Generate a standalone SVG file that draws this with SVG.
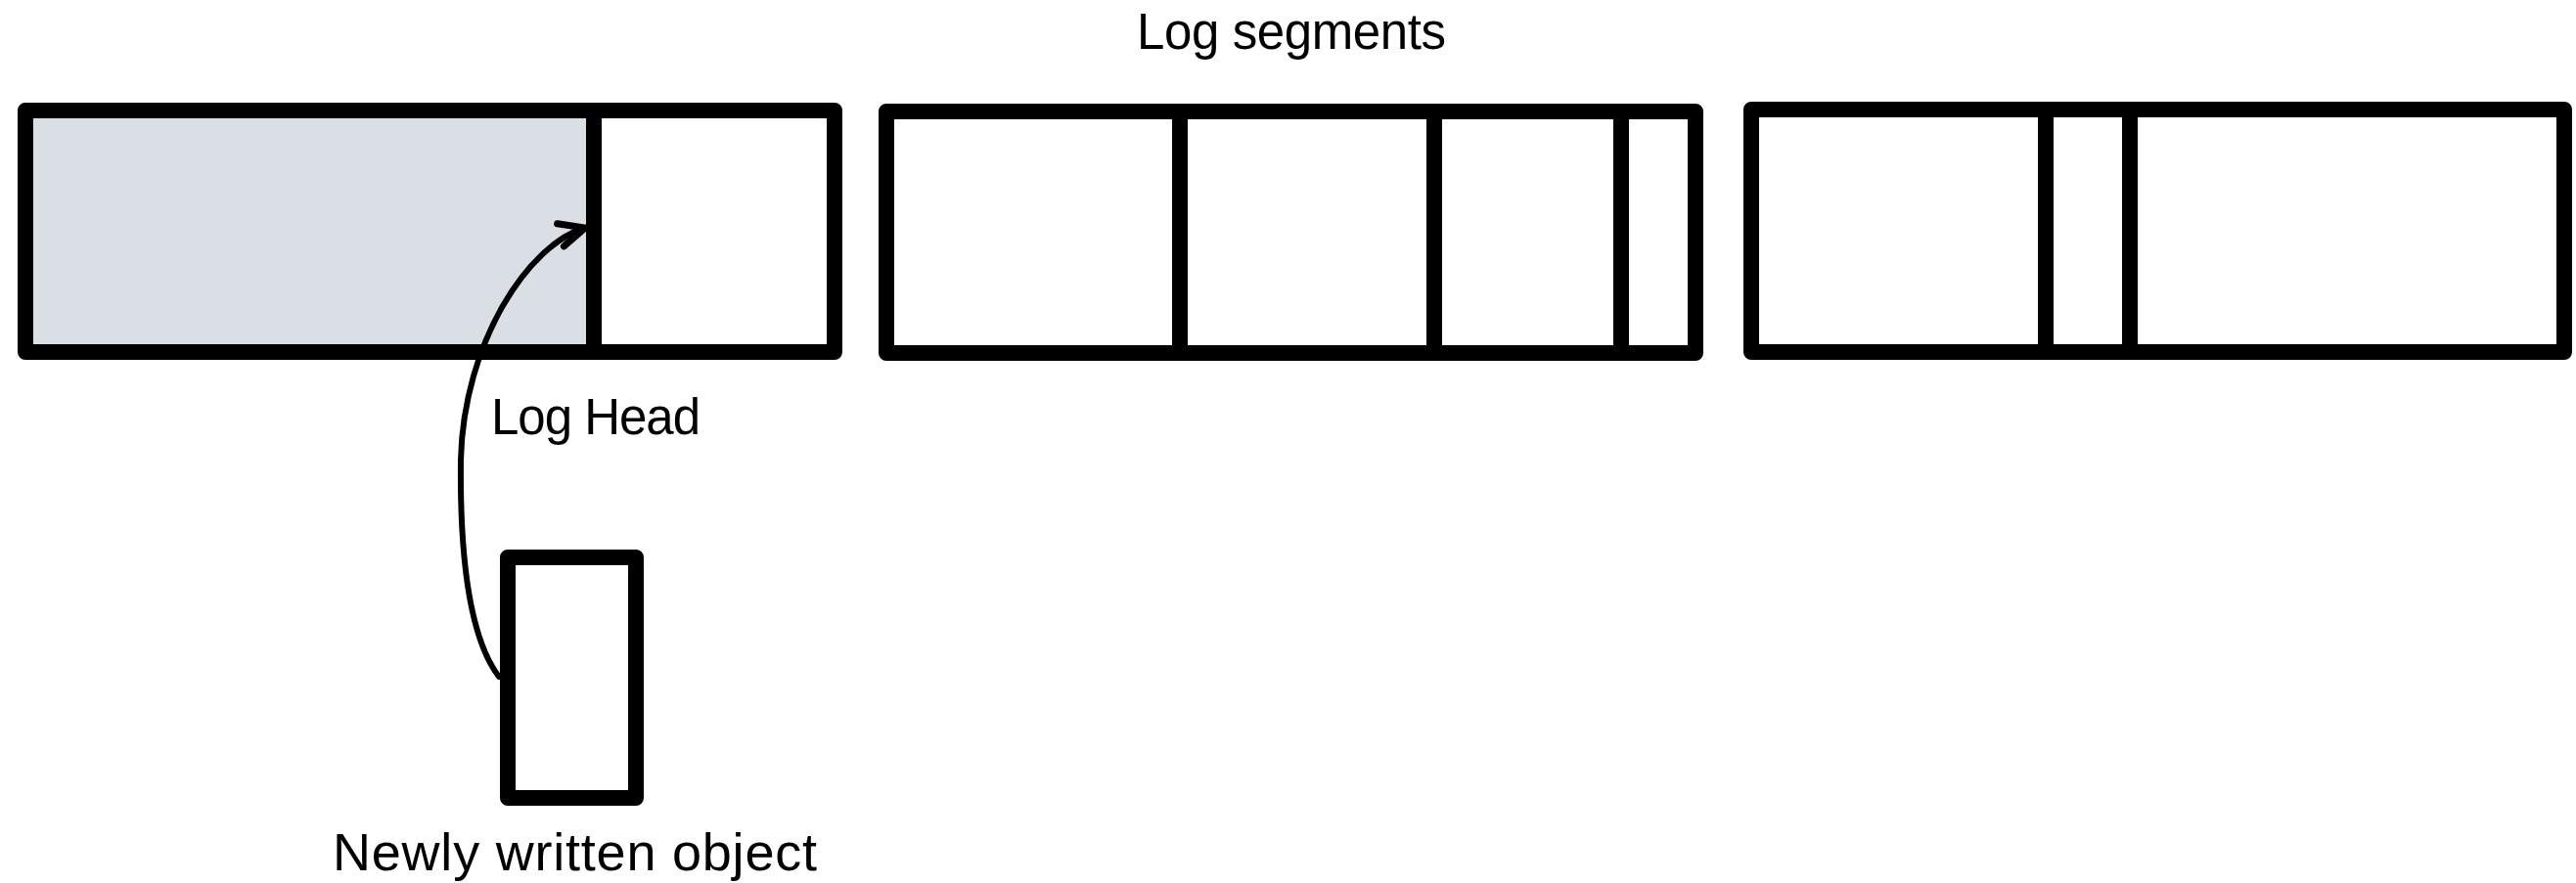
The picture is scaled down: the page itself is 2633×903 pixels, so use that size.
<svg xmlns="http://www.w3.org/2000/svg" width="2633" height="903" viewBox="0 0 2633 903">
  <style>
    .frame { fill: none; stroke: #000; stroke-width: 16; stroke-linejoin: round; }
    .div { stroke: #000; stroke-width: 16; }
    .lbl { font-family: "Liberation Sans", Arial, sans-serif; font-size: 51px; fill: #000; }
    .conn { fill: none; stroke: #000; stroke-width: 6; stroke-linecap: round; }
  </style>
  <defs>
    <marker id="arrow" markerUnits="userSpaceOnUse" markerWidth="40" markerHeight="40" viewBox="-30 -20 40 40" refX="0" refY="0" orient="auto">
      <path d="M -26,-12 L 0,0 L -26,12" fill="none" stroke="#000" stroke-width="7" stroke-linecap="round" stroke-linejoin="miter"/>
    </marker>
  </defs>
  <rect width="2633" height="903" fill="#fff"/>
  <text class="lbl" x="1162" y="50" textLength="316">Log segments</text>

  <g id="segment1">
    <rect x="26" y="113" width="827" height="247" fill="#fff" stroke="none"/>
    <rect x="34" y="121" width="565" height="231" fill="#D9DFE5"/>
    <line class="div" x1="607" y1="113" x2="607" y2="360"/>
    <rect class="frame" x="26" y="113" width="827" height="247"/>
  </g>

  <g id="segment2">
    <rect x="906" y="114" width="827" height="247" fill="#fff" stroke="none"/>
    <line class="div" x1="1206" y1="114" x2="1206" y2="361"/>
    <line class="div" x1="1466" y1="114" x2="1466" y2="361"/>
    <line class="div" x1="1657" y1="114" x2="1657" y2="361"/>
    <rect class="frame" x="906" y="114" width="827" height="247"/>
  </g>

  <g id="segment3">
    <rect x="1790" y="112" width="831" height="248" fill="#fff" stroke="none"/>
    <line class="div" x1="2091" y1="112" x2="2091" y2="360"/>
    <line class="div" x1="2177" y1="112" x2="2177" y2="360"/>
    <rect class="frame" x="1790" y="112" width="831" height="248"/>
  </g>

  <g id="log-head-label">
    <text class="lbl" x="502" y="444" textLength="214">Log Head</text>
  </g>

  <g id="new-object">
    <rect class="frame" x="519" y="570" width="131" height="246" fill="#fff"/>
    <text class="lbl" x="340" y="890" textLength="495" style="font-size:54px">Newly written object</text>
  </g>

  <g id="connectors">
    <path class="conn" d="M 510,692 C 478,650 470,560 471,470 C 474,350 540,250 598,233" marker-end="url(#arrow)"/>
  </g>
</svg>
